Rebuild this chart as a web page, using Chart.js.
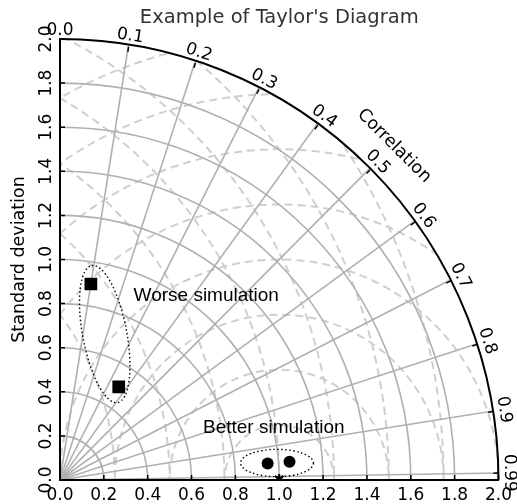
<!DOCTYPE html>
<html>
<head>
<meta charset="utf-8">
<script src="https://cdn.jsdelivr.net/npm/chart.js@4.4.0/dist/chart.umd.min.js"></script>
<style>
  html, body { margin: 0; padding: 0; background: #fff; }
</style>
</head>
<body>
<canvas id="taylor" width="517" height="504"></canvas>
<script>
// Standard deviation ticks on both straight axes, and the grey std arcs
const STD_TICKS = [0.0, 0.2, 0.4, 0.6, 0.8, 1.0, 1.2, 1.4, 1.6, 1.8, 2.0];
const STD_ARCS = [0.2, 0.4, 0.6, 0.8, 1.0, 1.2, 1.4, 1.6, 1.8];
const STD_MAX = 2.0;

// Correlation labels on the outer arc, and the grey rays
const CORR_LABELS = [0.0, 0.1, 0.2, 0.3, 0.4, 0.5, 0.6, 0.7, 0.8, 0.9, 0.99];
const CORR_RAYS = [0.1, 0.2, 0.3, 0.4, 0.5, 0.6, 0.7, 0.8, 0.9, 0.99];

// Dashed RMS contours (centres on the std axis, radii)
const RMS_CENTRES = [1.0, -1.0];
const RMS_LEVELS = [0.25, 0.5, 0.75, 1.0, 1.25, 1.5, 1.75, 2.0, 2.25, 2.5, 2.75, 3.0];

// Reference and simulations: standard deviation, correlation
const refStd = [1.0];
const refCorr = [1.0];
const worseStd = [0.90, 0.50];
const worseCorr = [0.10, 0.36];
const betterStd = [0.95, 1.05];
const betterCorr = [0.95, 0.95];

// Group notes: text, centre (x, y in std units)
const noteText = ['Worse simulation', 'Better simulation'];
const noteX = [0.667, 0.975];
const noteY = [0.834, 0.236];

// Dotted group outlines: centre x, centre y, semi axes, tilt (deg)
const ringX = [0.204, 0.99];
const ringY = [0.662, 0.077];
const ringA = [0.318, 0.166];
const ringB = [0.100, 0.062];
const ringTilt = [100.7, 0];

// correlation -> angle from the std (x) axis, linear as in the picture
const corrAngle = c => (1 - c) * Math.PI / 2;
const toXY = (s, c) => ({ x: s * Math.cos(corrAngle(c)), y: s * Math.sin(corrAngle(c)) });
const pairs = (ss, cs) => ss.map((s, i) => toXY(s, cs[i]));

function geom(chart) {
  const xs = chart.scales.x, ys = chart.scales.y;
  const ox = xs.getPixelForValue(0), oy = ys.getPixelForValue(0);
  return {
    ox, oy,
    kx: xs.getPixelForValue(1) - ox,
    ky: oy - ys.getPixelForValue(1),
    px: v => xs.getPixelForValue(v),
    py: v => ys.getPixelForValue(v),
  };
}

const polarGrid = {
  id: 'polarGrid',
  beforeDraw(chart) {
    const ctx = chart.ctx;
    const g = geom(chart);
    ctx.save();
    ctx.beginPath();
    ctx.moveTo(g.ox, g.oy);
    ctx.ellipse(g.ox, g.oy, STD_MAX * g.kx, STD_MAX * g.ky, 0, -Math.PI / 2, 0);
    ctx.closePath();
    ctx.clip();

    // RMS contours
    ctx.strokeStyle = '#cfcfcf';
    ctx.lineWidth = 2;
    ctx.setLineDash([8, 5]);
    RMS_CENTRES.forEach(c => {
      RMS_LEVELS.forEach(r => {
        ctx.beginPath();
        ctx.ellipse(g.px(c), g.oy, r * g.kx, r * g.ky, 0, 0, 2 * Math.PI);
        ctx.stroke();
      });
    });

    // std arcs and correlation rays
    ctx.setLineDash([]);
    ctx.strokeStyle = '#b0b0b0';
    ctx.lineWidth = 1.6;
    STD_ARCS.forEach(s => {
      ctx.beginPath();
      ctx.ellipse(g.ox, g.oy, s * g.kx, s * g.ky, 0, -Math.PI / 2, 0);
      ctx.stroke();
    });
    CORR_RAYS.forEach(c => {
      const p = toXY(STD_MAX, c);
      ctx.beginPath();
      ctx.moveTo(g.ox, g.oy);
      ctx.lineTo(g.px(p.x), g.py(p.y));
      ctx.stroke();
    });
    ctx.restore();
  },
  afterDraw(chart) {
    const ctx = chart.ctx;
    const g = geom(chart);
    ctx.save();

    // outer arc
    ctx.strokeStyle = '#000';
    ctx.lineWidth = 2;
    ctx.beginPath();
    ctx.ellipse(g.ox, g.oy, STD_MAX * g.kx, STD_MAX * g.ky, 0, -Math.PI / 2, 0);
    ctx.stroke();

    // correlation ticks + labels
    ctx.lineWidth = 1.5;
    ctx.fillStyle = '#000';
    ctx.font = '17px "DejaVu Sans"';
    ctx.textAlign = 'center';
    ctx.textBaseline = 'middle';
    CORR_LABELS.forEach(c => {
      const t = corrAngle(c);
      const R = STD_MAX * g.kx;
      const cx = Math.cos(t), sy = Math.sin(t);
      ctx.beginPath();
      ctx.moveTo(g.ox + R * cx, g.oy - R * sy);
      ctx.lineTo(g.ox + (R - 5) * cx, g.oy - (R - 5) * sy);
      ctx.stroke();
      ctx.save();
      ctx.translate(g.ox + (R + 11) * cx, g.oy - (R + 11) * sy);
      ctx.rotate(Math.PI / 2 - t);
      ctx.fillText(String(c.toFixed(c === 0.99 ? 2 : 1)), 0, 0);
      ctx.restore();
    });
    ctx.save();
    const tc = corrAngle(0.5);
    const Rc = STD_MAX * g.kx + 34;
    ctx.translate(g.ox + Rc * Math.cos(tc), g.oy - Rc * Math.sin(tc));
    ctx.rotate(Math.PI / 2 - tc);
    ctx.font = '17.5px "DejaVu Sans"';
    ctx.fillText('Correlation', 0, 0);
    ctx.restore();

    // inward ticks on the straight axes
    ctx.lineWidth = 1.5;
    STD_TICKS.forEach(v => {
      ctx.beginPath();
      ctx.moveTo(g.px(v), g.oy);
      ctx.lineTo(g.px(v), g.oy - 5);
      ctx.moveTo(g.ox, g.py(v));
      ctx.lineTo(g.ox + 5, g.py(v));
      ctx.stroke();
    });

    // dotted group outlines
    ctx.lineWidth = 1.4;
    ctx.setLineDash([1.5, 2.5]);
    ringX.forEach((x, i) => {
      ctx.beginPath();
      ctx.ellipse(g.px(x), g.py(ringY[i]), ringA[i] * g.kx, ringB[i] * g.ky,
        -ringTilt[i] * Math.PI / 180, 0, 2 * Math.PI);
      ctx.stroke();
    });
    ctx.setLineDash([]);

    // notes
    ctx.font = '19px "Liberation Sans"';
    noteText.forEach((t, i) => ctx.fillText(t, g.px(noteX[i]), g.py(noteY[i])));
    ctx.restore();
  },
};

const stdTicks = scale => { scale.ticks = STD_TICKS.map(v => ({ value: v })); };

new Chart(document.getElementById('taylor'), {
  type: 'scatter',
  data: {
    datasets: [
      {
        label: 'Reference',
        data: pairs(refStd, refCorr),
        pointStyle: 'star',
        radius: 6,
        borderColor: '#000',
        borderWidth: 2,
        backgroundColor: '#000',
      },
      {
        label: 'Worse',
        data: pairs(worseStd, worseCorr),
        pointStyle: 'rect',
        radius: 9,
        borderWidth: 0,
        backgroundColor: '#000',
      },
      {
        label: 'Better',
        data: pairs(betterStd, betterCorr),
        pointStyle: 'circle',
        radius: 6,
        borderWidth: 0,
        backgroundColor: '#000',
      },
    ],
  },
  options: {
    responsive: false,
    animation: false,
    layout: { padding: { top: 0, right: 16, bottom: 0, left: 0 } },
    plugins: {
      legend: { display: false },
      tooltip: { enabled: false },
      title: {
        display: true,
        text: "Example of Taylor's Diagram",
        fullSize: false,
        color: '#333',
        font: { family: "'DejaVu Sans'", size: 19.5, weight: 'normal' },
        padding: { top: 6.5, bottom: 9.1 },
      },
    },
    scales: {
      x: {
        type: 'linear',
        min: 0,
        max: STD_MAX,
        afterBuildTicks: stdTicks,
        afterFit: s => { s.height = 24; },
        ticks: {
          callback: v => v.toFixed(1),
          font: { family: "'DejaVu Sans'", size: 17 },
          color: '#000',
          padding: 5,
          maxRotation: 0,
          autoSkip: false,
        },
        grid: { display: false, drawTicks: false },
        border: { display: true, color: '#000', width: 2 },
      },
      y: {
        type: 'linear',
        min: 0,
        max: STD_MAX,
        afterBuildTicks: stdTicks,
        afterFit: s => { s.width = 60; },
        ticks: {
          callback: v => v.toFixed(1),
          font: { family: "'DejaVu Sans'", size: 17 },
          color: '#000',
          padding: 0,
          minRotation: 90,
          maxRotation: 90,
          crossAlign: 'center',
          autoSkip: false,
        },
        title: {
          display: true,
          text: 'Standard deviation',
          color: '#000',
          font: { family: "'DejaVu Sans'", size: 17.5 },
          padding: { top: 9, bottom: 0 },
        },
        grid: { display: false, drawTicks: false },
        border: { display: true, color: '#000', width: 2 },
      },
    },
  },
  plugins: [polarGrid],
});
</script>
</body>
</html>
